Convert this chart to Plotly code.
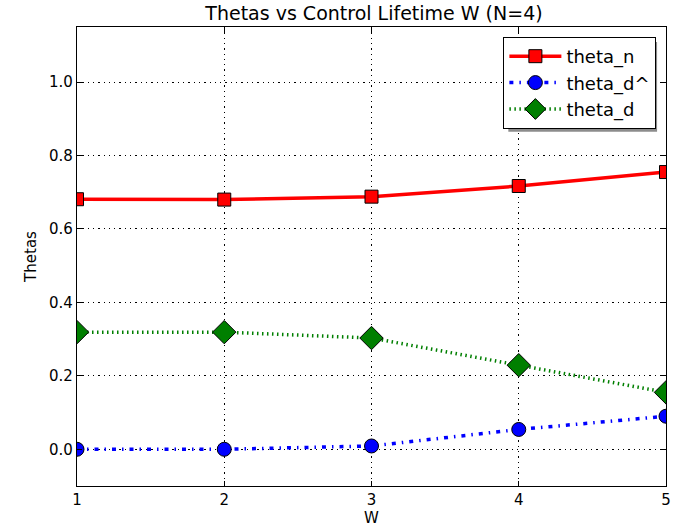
import plotly.graph_objects as go

W = [1, 2, 3, 4, 5]
theta_n = [0.681, 0.680, 0.688, 0.717, 0.755]
theta_d_hat = [0.000, 0.000, 0.009, 0.054, 0.090]
theta_d = [0.319, 0.319, 0.303, 0.229, 0.155]

y_ticks = [0.0, 0.2, 0.4, 0.6, 0.8, 1.0]
font_family = "DejaVu Sans"

fig = go.Figure()
fig.add_trace(go.Scatter(
    x=W, y=theta_n, name="theta_n", mode="lines+markers",
    line=dict(color="#ff0000", width=3.5, dash="solid"),
    marker=dict(symbol="square", size=13, color="#ff0000", line=dict(color="black", width=1)),
))
fig.add_trace(go.Scatter(
    x=W, y=theta_d_hat, name="theta_d^", mode="lines+markers",
    line=dict(color="#0000ff", width=3.5, dash="4px,6px,1.5px,6px"),
    marker=dict(symbol="circle", size=14, color="#0000ff", line=dict(color="black", width=1)),
))
fig.add_trace(go.Scatter(
    x=W, y=theta_d, name="theta_d", mode="lines+markers",
    line=dict(color="#007f00", width=3.5, dash="1.5px,3.5px"),
    marker=dict(symbol="diamond", size=18, color="#007f00", line=dict(color="black", width=1)),
))

axis_common = dict(
    showline=True, linecolor="black", linewidth=1.2, mirror="allticks",
    ticks="inside", ticklen=5, tickcolor="black", tickwidth=1,
    showgrid=True, gridcolor="black", gridwidth=1, griddash="1.3px,4px",
    zeroline=False,
    tickfont=dict(family=font_family, size=15, color="black"),
)

fig.update_xaxes(
    range=[1, 5], tickvals=W, ticktext=[str(w) for w in W],
    title=dict(text="W", font=dict(family=font_family, size=15, color="black"), standoff=2),
    **axis_common,
)
fig.update_yaxes(
    range=[-0.1, 1.15], tickvals=y_ticks, ticktext=[f"{v:.1f}" for v in y_ticks],
    title=dict(text="Thetas", font=dict(family=font_family, size=15, color="black"), standoff=8),
    **axis_common,
)

# Legend drop shadow, offset a few pixels right and down from the legend box
fig.add_shape(
    type="rect", xref="paper", yref="paper",
    x0=(512 - 77) / 594, x1=(662 - 77) / 594,
    y0=(487 - 132) / 460, y1=(487 - 42) / 460,
    fillcolor="#8c8c8c", line=dict(width=0), layer="above",
)

fig.update_layout(
    width=678, height=529,
    margin=dict(l=77, r=7, t=27, b=42),
    paper_bgcolor="white", plot_bgcolor="white",
    font=dict(family=font_family, color="black"),
    title=dict(
        text="Thetas vs Control Lifetime W (N=4)",
        x=(77 + 671) / 2 / 678, xanchor="center",
        y=1 - 13 / 529, yanchor="middle",
        font=dict(family=font_family, size=19, color="black"),
    ),
    legend=dict(
        x=(507 - 77) / 594, xanchor="left",
        y=(487 - 37) / 460, yanchor="top",
        bgcolor="white", bordercolor="black", borderwidth=1,
        font=dict(family=font_family, size=18, color="black"),
        itemwidth=52, tracegroupgap=2,
    ),
    showlegend=True,
)

fig.write_html("out.html")
